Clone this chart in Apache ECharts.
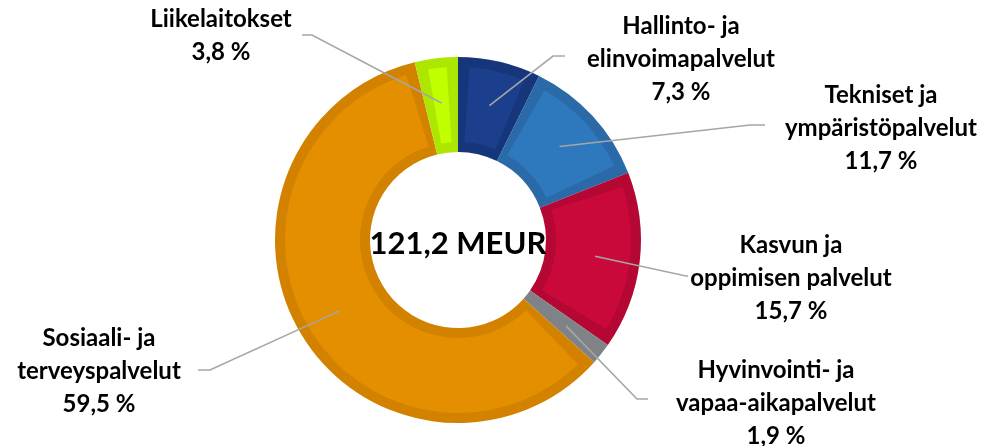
<!DOCTYPE html>
<html>
<head>
<meta charset="utf-8">
<script src="https://cdn.jsdelivr.net/npm/echarts@6/dist/echarts.min.js"></script>
<style>
  html, body { margin: 0; padding: 0; background: #fff; }
  #main { width: 987px; height: 446px; }
</style>
</head>
<body>
<div id="main"></div>
<script>
let myChart = echarts.init(document.getElementById('main'));

// data
const names = [
  'Hallinto- ja\nelinvoimapalvelut',
  'Tekniset ja\nympäristöpalvelut',
  'Kasvun ja\noppimisen palvelut',
  'Hyvinvointi- ja\nvapaa-aikapalvelut',
  'Sosiaali- ja\nterveyspalvelut',
  'Liikelaitokset'
];
const shares = [7.3, 11.7, 15.7, 1.9, 59.5, 3.8];
const totalText = '121,2 MEUR';

// styles
const fillColors = ['#1b3f8d', '#2e78bd', '#c9093a', '#878b8f', '#e48f00', '#bfff00'];
const bandColors = ['#15367a', '#2a6aa8', '#b40733', '#7f8387', '#d38200', '#ade600'];
const cx = 458, cy = 240;
// label centres and leader line end points (pixels)
const labelPos = [[681, 59], [881, 128], [791, 278], [776, 403], [99, 371], [221, 36]];
const lineEnds = [
  [[553, 56], [565, 56]],
  [[750, 125], [765, 125]],
  [[686, 276], [688, 276]],
  [[637, 399], [648, 399]],
  [[210, 370], [198, 370]],
  [[312, 35], [302, 35]]
];

const sum = shares.reduce((a, b) => a + b, 0);
function anchor(i) {
  let before = 0;
  for (let k = 0; k < i; k++) before += shares[k];
  const a = (before + shares[i] / 2) / sum * Math.PI * 2;
  return [cx + 138 * Math.sin(a), cy - 138 * Math.cos(a)];
}

const font = 'Lato, "Open Sans", sans-serif';

const ring = {
  type: 'pie',
  center: [cx, cy],
  startAngle: 90,
  clockwise: true,
  silent: true,
  label: { show: false },
  labelLine: { show: false }
};

let option = {
  backgroundColor: '#fff',
  animation: false,
  graphic: [{
    type: 'text',
    x: cx,
    y: cy + 4,
    style: {
      text: totalText,
      fontFamily: font,
      fontWeight: 'bold',
      fontSize: 31,
      fill: '#000',
      align: 'center',
      verticalAlign: 'middle'
    },
    z: 10
  }],
  series: [
    // darker rim of every slice
    Object.assign({}, ring, {
      radius: [88, 183],
      data: shares.map((v, i) => ({ name: names[i], value: v, itemStyle: { color: bandColors[i] } }))
    }),
    // lighter inner face
    Object.assign({}, ring, {
      z: 3,
      radius: [98, 173],
      padAngle: 7.5,
      data: shares.map((v, i) => ({ name: names[i], value: v, itemStyle: { color: fillColors[i] } }))
    }),
    // labels and leader lines on top
    {
      type: 'pie',
      z: 5,
      silent: true,
      center: [cx, cy],
      radius: [98, 173],
      startAngle: 90,
      clockwise: true,
      avoidLabelOverlap: false,
      itemStyle: { color: 'rgba(0,0,0,0)' },
      label: {
        show: true,
        position: 'outside',
        fontFamily: font,
        fontWeight: 'bold',
        fontSize: 24,
        lineHeight: 33,
        color: '#000',
        align: 'center',
        formatter: p => p.name + '\n' + p.value.toFixed(1).replace('.', ',') + ' %'
      },
      labelLine: {
        show: true,
        lineStyle: { color: '#a6a6a6', width: 1.6 }
      },
      labelLayout: function (params) {
        const i = params.dataIndex;
        return {
          x: labelPos[i][0],
          y: labelPos[i][1],
          align: 'center',
          verticalAlign: 'middle',
          labelLinePoints: [anchor(i), lineEnds[i][0], lineEnds[i][1]]
        };
      },
      data: shares.map((v, i) => ({ name: names[i], value: v }))
    }
  ]
};

myChart.setOption(option);
</script>
</body>
</html>
